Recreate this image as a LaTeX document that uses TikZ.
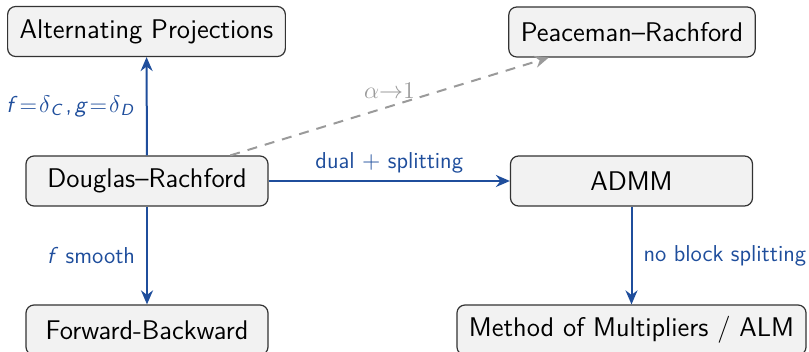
\documentclass[tikz,border=0pt]{standalone}
\usetikzlibrary{arrows.meta}
\definecolor{eblue}{HTML}{1F4E9C}
\definecolor{egray}{HTML}{9A9A9A}
\definecolor{efill}{HTML}{F2F2F2}
\begin{document}
\begin{tikzpicture}[x=0.5pt,y=-0.5pt,
  font=\sffamily\fontsize{13.5}{16}\selectfont,
  box/.style={draw=black!80, fill=efill, line width=0.6pt, rounded corners=4pt,
    minimum width=121pt, minimum height=25pt, inner xsep=6pt},
  link/.style={draw=eblue, line width=1pt, -{Stealth[length=7pt,width=6pt]}},
  dlink/.style={draw=egray, line width=1pt, dashed, dash pattern=on 5pt off 4pt, -{Stealth[length=7pt,width=6pt]}},
  lbl/.style={text=eblue, font=\sffamily\fontsize{11.5}{13}\selectfont},
  slbl/.style={lbl, inner xsep=5.5pt}]
\useasboundingbox (0,0) rectangle (809,352);
\node[box] (ap) at (146.5,31.5) {Alternating Projections};
\node[box] (pr) at (632,32) {Peaceman--Rachford};
\node[box] (dr) at (147,181) {Douglas--Rachford};
\node[box] (admm) at (631.5,181) {ADMM};
\node[box] (fb) at (147,330) {Forward-Backward};
\node[box] (mm) at (631.5,330) {Method of Multipliers / ALM};
\draw[link] (dr) -- node[slbl, left] {\textit{f}\kern1pt=\kern1pt$\delta$\textsubscript{\textit{C}}\kern1pt,\kern1.5pt\textit{g}\kern1pt=\kern1pt$\delta$\textsubscript{\textit{D}}} (ap);
\draw[link] (dr) -- node[slbl, left] {\textit{f} smooth} (fb);
\draw[link] (dr) -- node[lbl, above] {dual $+$ splitting} (admm);
\draw[link] (admm) -- node[slbl, right] {no block splitting} (mm);
\draw[dlink] (dr) -- node[text=egray, above, font=\fontsize{11.5}{13}\selectfont] {$\alpha{\to}1$} (pr);
\end{tikzpicture}
\end{document}
